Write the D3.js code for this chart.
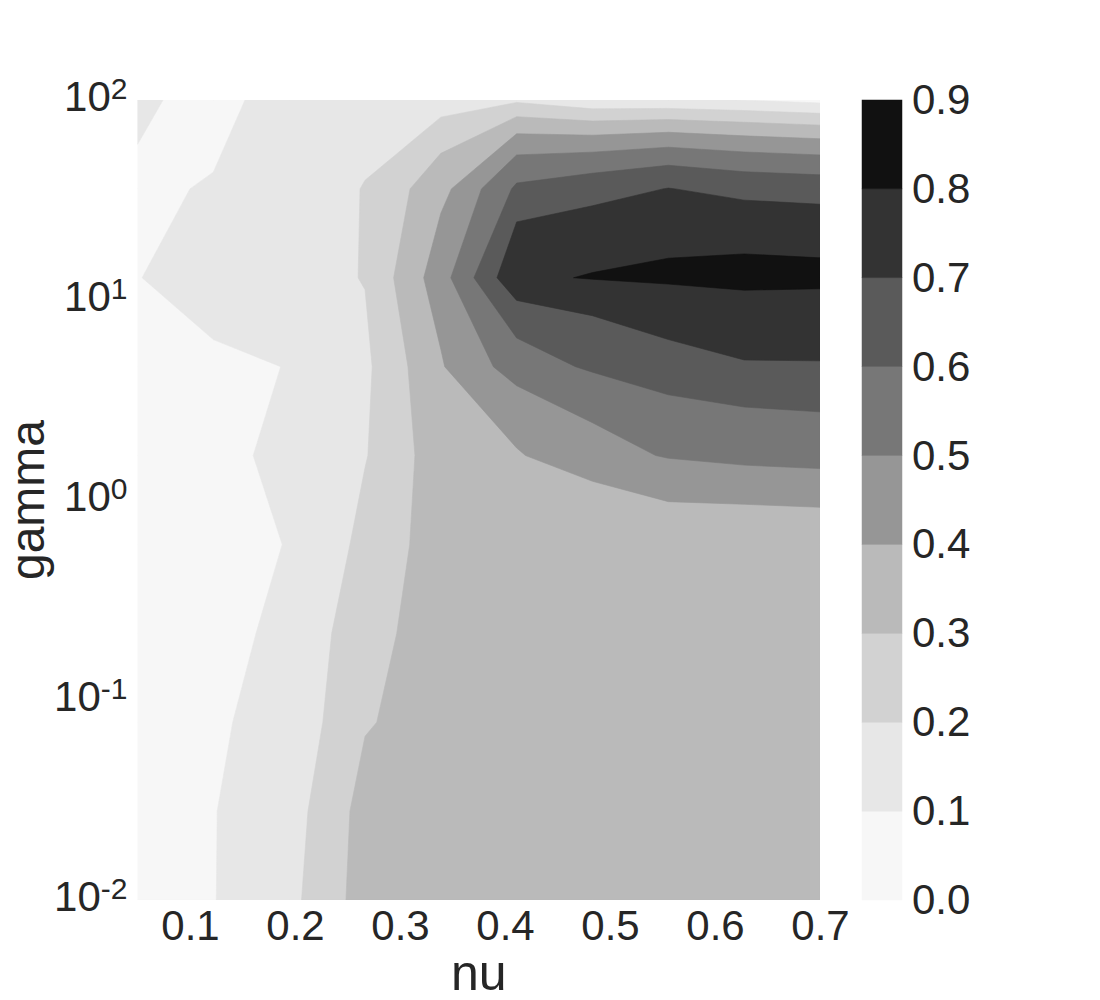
<!DOCTYPE html>
<html>
<head>
<meta charset="utf-8">
<script src="https://cdn.jsdelivr.net/npm/d3@7"></script>
<style>
  body { margin: 0; background: #ffffff; }
  text { font-family: "Liberation Sans", Arial, sans-serif; fill: #262626; }
</style>
</head>
<body>
<svg id="chart" width="1100" height="1000"></svg>
<script>
// ---- data ----
const nuValues = [0.05, 0.1222, 0.1944, 0.2667, 0.3389, 0.4111, 0.4833, 0.5556, 0.6278, 0.7];
// gamma grid, listed from top (largest) to bottom (smallest)
const gammaValues = [100, 35.94, 12.92, 4.642, 1.668, 0.5995, 0.2154, 0.07743, 0.02783, 0.01];

// score rows, one per gamma value (same order as gammaValues), columns follow nuValues
const scoreGamma100   = [0.130, 0.041, 0.182, 0.120, 0.136, 0.181, 0.118, 0.115, 0.098, 0.069];
const scoreGamma35_9  = [0.082, 0.108, 0.129, 0.205, 0.365, 0.617, 0.660, 0.703, 0.670, 0.658];
const scoreGamma12_9  = [0.098, 0.131, 0.150, 0.205, 0.457, 0.785, 0.805, 0.816, 0.828, 0.824];
const scoreGamma4_64  = [0.070, 0.092, 0.101, 0.180, 0.392, 0.548, 0.615, 0.670, 0.694, 0.695];
const scoreGamma1_67  = [0.060, 0.080, 0.118, 0.194, 0.355, 0.392, 0.460, 0.508, 0.532, 0.545];
const scoreGamma0_60  = [0.050, 0.070, 0.103, 0.224, 0.353, 0.330, 0.310, 0.340, 0.335, 0.338];
const scoreGamma0_22  = [0.040, 0.060, 0.131, 0.254, 0.364, 0.350, 0.345, 0.350, 0.350, 0.350];
const scoreGamma0_077 = [0.040, 0.090, 0.129, 0.289, 0.360, 0.355, 0.350, 0.355, 0.355, 0.355];
const scoreGamma0_028 = [0.040, 0.097, 0.155, 0.336, 0.360, 0.360, 0.355, 0.360, 0.360, 0.360];
const scoreGamma0_01  = [0.040, 0.097, 0.172, 0.343, 0.360, 0.360, 0.360, 0.360, 0.360, 0.360];

const levels = [0.0, 0.1, 0.2, 0.3, 0.4, 0.5, 0.6, 0.7, 0.8, 0.9];
const bandColors = ["#f7f7f7", "#e7e7e7", "#d2d2d2", "#bababa", "#969696",
                    "#777777", "#5a5a5a", "#333333", "#111111"];
const xTickValues = [0.1, 0.2, 0.3, 0.4, 0.5, 0.6, 0.7];
const yTickValues = [100, 10, 1, 0.1, 0.01];
const yTickExponents = ["2", "1", "0", "-1", "-2"];
const xLabel = "nu";
const yLabel = "gamma";

// ---- layout ----
const plot = { left: 137.5, right: 820, top: 100, bottom: 900 };
const cbar = { left: 862, right: 902, top: 100, bottom: 900 };

const svg = d3.select("#chart");

const xScale = d3.scaleLinear().domain([0.05, 0.7]).range([plot.left, plot.right]);
const yScale = d3.scaleLog().domain([0.01, 100]).range([plot.bottom, plot.top]);

// ---- filled contours ----
const rows = [scoreGamma100, scoreGamma35_9, scoreGamma12_9, scoreGamma4_64, scoreGamma1_67,
              scoreGamma0_60, scoreGamma0_22, scoreGamma0_077, scoreGamma0_028, scoreGamma0_01];
const nx = nuValues.length, ny = gammaValues.length;
const grid = [].concat(...rows);

const contours = d3.contours().size([nx, ny]).thresholds(levels.slice(0, 9))(grid);

function gridToData(arr, c) {
  let u = Math.max(0, Math.min(arr.length - 1, c - 0.5));
  let j = Math.min(arr.length - 2, Math.floor(u));
  let t = u - j;
  return arr[j] + t * (arr[j + 1] - arr[j]);
}
const proj = d3.geoTransform({
  point(x, y) {
    this.stream.point(xScale(gridToData(nuValues, x)), yScale(gridToData(gammaValues, y)));
  }
});
const path = d3.geoPath(proj);

svg.append("defs").append("clipPath").attr("id", "plotclip")
  .append("rect")
  .attr("x", plot.left).attr("y", plot.top)
  .attr("width", plot.right - plot.left).attr("height", plot.bottom - plot.top);

svg.append("g").attr("clip-path", "url(#plotclip)")
  .selectAll("path")
  .data(contours)
  .join("path")
  .attr("d", path)
  .attr("fill", (d, i) => bandColors[i])
  .attr("stroke", (d, i) => bandColors[i])
  .attr("stroke-width", 0.6);

// ---- x axis ----
const xAxis = d3.axisBottom(xScale).tickValues(xTickValues).tickSize(0).tickPadding(10)
  .tickFormat(d3.format(".1f"));
const gx = svg.append("g").attr("transform", `translate(0,${plot.bottom})`).call(xAxis);
gx.select(".domain").remove();
gx.selectAll("text").attr("font-size", 42).attr("fill", "#262626")
  .attr("font-family", '"Liberation Sans", Arial, sans-serif');

// ---- y axis (log, with superscript labels) ----
const yAxis = d3.axisLeft(yScale).tickValues(yTickValues).tickSize(0).tickPadding(10)
  .tickFormat(() => "");
const gy = svg.append("g").attr("transform", `translate(${plot.left},0)`).call(yAxis);
gy.select(".domain").remove();
gy.selectAll(".tick text").each(function (d, i) {
  const t = d3.select(this)
    .attr("font-size", 42).attr("fill", "#262626")
    .attr("font-family", '"Liberation Sans", Arial, sans-serif')
    .attr("dy", "0.26em");
  t.append("tspan").text("10");
  t.append("tspan").attr("font-size", 30).attr("dy", -12).text(yTickExponents[i]);
});

// ---- axis labels ----
svg.append("text")
  .attr("x", (plot.left + plot.right) / 2).attr("y", 990)
  .attr("text-anchor", "middle").attr("font-size", 50)
  .text(xLabel);
svg.append("text")
  .attr("transform", `translate(44,${(plot.top + plot.bottom) / 2}) rotate(-90)`)
  .attr("text-anchor", "middle").attr("font-size", 48)
  .text(yLabel);

// ---- colorbar ----
const cScale = d3.scaleLinear().domain([0, 0.9]).range([cbar.bottom, cbar.top]);
svg.append("g").selectAll("rect")
  .data(bandColors)
  .join("rect")
  .attr("x", cbar.left)
  .attr("width", cbar.right - cbar.left)
  .attr("y", (d, i) => cScale(levels[i + 1]))
  .attr("height", (d, i) => cScale(levels[i]) - cScale(levels[i + 1]))
  .attr("fill", d => d)
  .attr("stroke", d => d).attr("stroke-width", 0.5);

const cAxis = d3.axisRight(cScale).tickValues(levels).tickSize(0).tickPadding(10)
  .tickFormat(d3.format(".1f"));
const gc = svg.append("g").attr("transform", `translate(${cbar.right},0)`).call(cAxis);
gc.select(".domain").remove();
gc.selectAll("text").attr("font-size", 42).attr("fill", "#262626")
  .attr("font-family", '"Liberation Sans", Arial, sans-serif');
</script>
</body>
</html>
